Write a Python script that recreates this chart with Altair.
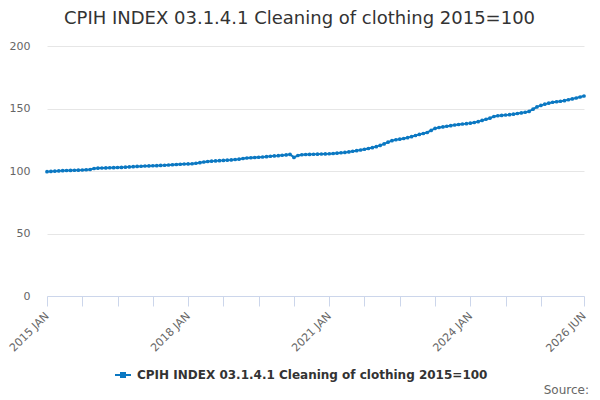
import altair as alt
import pandas as pd

SERIES = "CPIH INDEX 03.1.4.1 Cleaning of clothing 2015=100"
MONTHS = ["JAN", "FEB", "MAR", "APR", "MAY", "JUN", "JUL", "AUG", "SEP", "OCT", "NOV", "DEC"]

v2015 = [99.5, 99.7, 99.9, 100.1, 100.3, 100.4, 100.5, 100.6, 100.7, 100.8, 101.0, 101.2]
v2016 = [102.0, 102.3, 102.4, 102.5, 102.6, 102.7, 102.8, 102.9, 103.1, 103.3, 103.5, 103.7]
v2017 = [103.8, 104.0, 104.1, 104.2, 104.3, 104.5, 104.6, 104.8, 105.0, 105.2, 105.4, 105.6]
v2018 = [105.7, 105.8, 106.2, 106.7, 107.2, 107.6, 107.9, 108.1, 108.3, 108.5, 108.7, 108.9]
v2019 = [109.2, 109.5, 110.0, 110.4, 110.6, 110.8, 111.0, 111.2, 111.5, 111.8, 112.1, 112.3]
v2020 = [112.6, 112.9, 113.3, 110.9, 112.4, 113.0, 113.2, 113.3, 113.4, 113.5, 113.6, 113.7]
v2021 = [113.8, 114.0, 114.3, 114.6, 114.9, 115.3, 115.8, 116.3, 116.8, 117.4, 118.0, 118.7]
v2022 = [119.5, 120.5, 121.7, 123.1, 124.3, 125.0, 125.5, 126.0, 126.7, 127.5, 128.4, 129.3]
v2023 = [130.0, 130.8, 132.5, 134.1, 134.8, 135.3, 135.8, 136.3, 136.8, 137.2, 137.6, 137.9]
v2024 = [138.3, 138.8, 139.5, 140.5, 141.4, 142.3, 143.6, 144.2, 144.5, 144.8, 145.1, 145.5]
v2025 = [146.0, 146.5, 147.0, 147.7, 149.5, 151.3, 152.5, 153.5, 154.3, 155.0, 155.4, 155.8]
v2026 = [156.3, 157.0, 157.7, 158.4, 159.2, 160.0]

values = v2015 + v2016 + v2017 + v2018 + v2019 + v2020 + v2021 + v2022 + v2023 + v2024 + v2025 + v2026
labels = [f"{2015 + i // 12} {MONTHS[i % 12]}" for i in range(len(values))]

df = pd.DataFrame({"idx": list(range(len(values))), "label": labels,
                   "value": values, "series": SERIES})
source_df = pd.DataFrame({"text": ["Source:"]})

last = len(values) - 1
tick_vals = list(range(0, last - 5, 9)) + [last]
month_arr = "[" + ",".join(f"'{m}'" for m in MONTHS) + "]"
label_expr = (f"(datum.value % 36 == 0 || datum.value == {last}) ? "
              f"((2015 + floor(datum.value / 12)) + ' ' + {month_arr}[datum.value % 12]) : ''")

COLOR = "#0b78c2"
FONT = "DejaVu Sans"

line = alt.Chart(df).mark_line(strokeWidth=2, point=alt.OverlayMarkDef(filled=True, size=14)).encode(
    x=alt.X("idx:Q", scale=alt.Scale(domain=[0, last], nice=False, zero=False),
            axis=alt.Axis(values=tick_vals, labelExpr=label_expr, title=None,
                          grid=False, labelAngle=-45, labelAlign="right",
                          labelBaseline="middle", labelPadding=8,
                          domainColor="#ccd6eb", tickColor="#ccd6eb", tickSize=10,
                          labelColor="#666666", labelFontSize=11, labelFont=FONT,
                          labelOverlap=False, labelBound=False, labelFlush=False)),
    y=alt.Y("value:Q", scale=alt.Scale(domain=[0, 200], nice=False),
            axis=alt.Axis(values=[0, 50, 100, 150, 200], title=None, domain=False,
                          ticks=False, gridColor="#e6e6e6", labelColor="#666666",
                          labelFontSize=11, labelFont=FONT, labelPadding=17)),
    color=alt.Color("series:N", scale=alt.Scale(domain=[SERIES], range=[COLOR]),
                    legend=alt.Legend(orient="none", legendX=67, legendY=320, title=None,
                                      symbolType="M-1,0L1,0M-0.25,-0.25L0.25,-0.25L0.25,0.25L-0.25,0.25Z",
                                      symbolSize=256, symbolStrokeWidth=2,
                                      symbolFillColor=COLOR, symbolStrokeColor=COLOR,
                                      labelFont=FONT, labelFontSize=12, labelFontWeight="bold",
                                      labelColor="#333333", labelOffset=5, labelLimit=0)),
)

source = alt.Chart(source_df).mark_text(align="right", baseline="middle", font=FONT, fontSize=12,
                                        color="#666666").encode(
    x=alt.value(542), y=alt.value(344), text="text:N"
)

chart = alt.layer(line, source).properties(
    width=537, height=250,
    autosize=alt.AutoSizeParams(type="none"),
    padding={"left": 39, "top": 38, "right": 8, "bottom": 104},
    title=alt.TitleParams(SERIES, font=FONT, fontSize=18, fontWeight="normal",
                          color="#333333", anchor="middle", frame="group",
                          baseline="alphabetic", offset=-2, dx=-16),
).configure_view(stroke=None)

chart.save("out.html", embed_options={"renderer": "svg", "actions": False})
